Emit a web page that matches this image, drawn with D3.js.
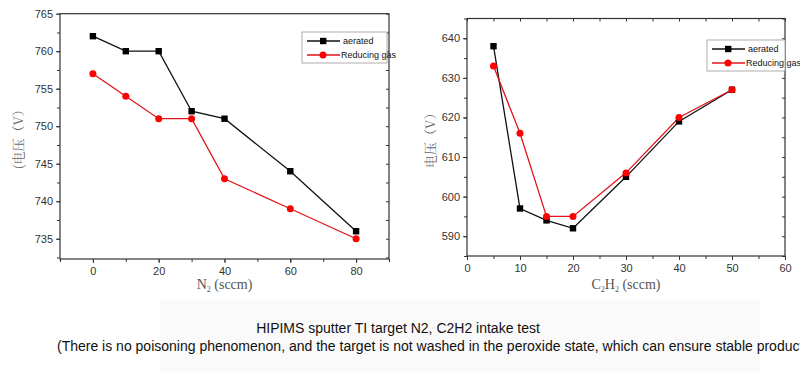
<!DOCTYPE html>
<html>
<head>
<meta charset="utf-8">
<script src="https://cdn.jsdelivr.net/npm/d3@7"></script>
<style>
body { margin: 0; background: #fff; }
svg { display: block; }
.tick text { font-family: Arial, "Liberation Sans", sans-serif; font-size: 11px; fill: #333; }
.axis-title { font-family: "Liberation Serif", "Noto Serif CJK SC", "Noto Sans CJK SC", serif; font-size: 14px; fill: #555; }
.y-title { font-family: "Noto Serif CJK SC", "Noto Sans CJK SC", serif; font-size: 13px; fill: #666; }
.legend-text { font-family: Arial, "Liberation Sans", sans-serif; font-size: 9px; fill: #111; }
.caption { font-family: Arial, "Liberation Sans", sans-serif; font-size: 14px; fill: #111; }
</style>
</head>
<body>
<script>
// left chart: N2 intake
var n2Flow = [0, 10, 20, 30, 40, 60, 80];
var n2Aerated = [762, 760, 760, 752, 751, 744, 736];
var n2Reducing = [757, 754, 751, 751, 743, 739, 735];
var n2XTicks = [0, 20, 40, 60, 80];
var n2YTicks = [735, 740, 745, 750, 755, 760, 765];

// right chart: C2H2 intake
var c2h2Flow = [5, 10, 15, 20, 30, 40, 50];
var c2h2Aerated = [638, 597, 594, 592, 605, 619, 627];
var c2h2Reducing = [633, 616, 595, 595, 606, 620, 627];
var c2h2XTicks = [0, 10, 20, 30, 40, 50, 60];
var c2h2YTicks = [590, 600, 610, 620, 630, 640];

var seriesNames = ["aerated", "Reducing gas"];
var captionLines = [
    "HIPIMS sputter TI target N2, C2H2 intake test",
    "(There is no poisoning phenomenon, and the target is not washed in the peroxide state, which can ensure stable production)"
];

const svg = d3.select("body").append("svg")
    .attr("width", 800)
    .attr("height", 372);

// faint background band behind the caption
svg.append("rect")
    .attr("x", 160).attr("y", 300)
    .attr("width", 600).attr("height", 72)
    .attr("fill", "#fafafa");

function drawChart(opt) {
    const x = d3.scaleLinear().domain(opt.xDomain).range([opt.left, opt.right]);
    const y = d3.scaleLinear().domain(opt.yDomain).range([opt.bottom, opt.top]);
    const g = svg.append("g");

    // frame
    g.append("rect")
        .attr("x", opt.left).attr("y", opt.top)
        .attr("width", opt.right - opt.left).attr("height", opt.bottom - opt.top)
        .attr("fill", "none").attr("stroke", "#333").attr("stroke-width", 1.2);

    // bottom axis with minor ticks
    const xMinor = d3.range(opt.xDomain[0], opt.xDomain[1] + 0.01, opt.xMinorStep);
    g.append("g")
        .attr("transform", "translate(0," + opt.bottom + ")")
        .call(d3.axisBottom(x).tickValues(xMinor).tickSize(3).tickFormat(""))
        .call(a => a.select(".domain").remove())
        .selectAll("line").attr("stroke", "#333");
    g.append("g")
        .attr("transform", "translate(0," + opt.bottom + ")")
        .call(d3.axisBottom(x).tickValues(opt.xTicks).tickSize(4).tickPadding(4))
        .call(a => a.select(".domain").remove())
        .selectAll("line").attr("stroke", "#333");

    // left axis with minor ticks
    const yMinor = d3.range(opt.yTicks[0] - opt.yMinorStep, opt.yDomain[1] + 0.01, opt.yMinorStep)
        .filter(v => v >= opt.yDomain[0]);
    g.append("g")
        .attr("transform", "translate(" + opt.left + ",0)")
        .call(d3.axisLeft(y).tickValues(yMinor).tickSize(3).tickFormat(""))
        .call(a => a.select(".domain").remove())
        .selectAll("line").attr("stroke", "#333");
    g.append("g")
        .attr("transform", "translate(" + opt.left + ",0)")
        .call(d3.axisLeft(y).tickValues(opt.yTicks).tickSize(4).tickPadding(3))
        .call(a => a.select(".domain").remove())
        .selectAll("line").attr("stroke", "#333");

    // right and top frame ticks pointing inward
    g.append("g")
        .attr("transform", "translate(" + opt.right + ",0)")
        .call(d3.axisLeft(y).tickValues(yMinor).tickSize(3).tickFormat(""))
        .call(a => a.select(".domain").remove())
        .selectAll("line").attr("stroke", "#333");
    g.append("g")
        .attr("transform", "translate(0," + opt.top + ")")
        .call(d3.axisBottom(x).tickValues(opt.topTicks ? xMinor : []).tickSize(3).tickFormat(""))
        .call(a => a.select(".domain").remove())
        .selectAll("line").attr("stroke", "#333");

    // axis titles
    const xt = g.append("text")
        .attr("class", "axis-title")
        .attr("x", (opt.left + opt.right) / 2)
        .attr("y", 289)
        .attr("text-anchor", "middle");
    opt.xTitle.forEach(p => {
        const s = xt.append("tspan").text(p.t);
        if (p.sub) s.attr("font-size", "8px").attr("dy", "3");
        else if (p.after) s.attr("dy", "-3");
    });

    g.append("text")
        .attr("class", "y-title")
        .attr("transform", "translate(" + opt.yTitleX + "," + ((opt.top + opt.bottom) / 2) + ") rotate(-90)")
        .attr("text-anchor", "middle")
        .attr("dy", "0.35em")
        .text(opt.yTitle);

    const line = d3.line().x(d => x(d[0])).y(d => y(d[1]));

    const aer = opt.flow.map((f, i) => [f, opt.aerated[i]]);
    const red = opt.flow.map((f, i) => [f, opt.reducing[i]]);

    g.append("path").datum(aer).attr("d", line)
        .attr("fill", "none").attr("stroke", "#111").attr("stroke-width", 1.3);
    g.append("path").datum(red).attr("d", line)
        .attr("fill", "none").attr("stroke", "#e0141a").attr("stroke-width", 1.3);

    g.selectAll(".sq").data(aer).enter().append("rect")
        .attr("x", d => x(d[0]) - 3.2).attr("y", d => y(d[1]) - 3.2)
        .attr("width", 6.4).attr("height", 6.4).attr("fill", "#000");
    g.selectAll(".ci").data(red).enter().append("circle")
        .attr("cx", d => x(d[0])).attr("cy", d => y(d[1]))
        .attr("r", 3.5).attr("fill", "#f00");

    // legend
    const lg = g.append("g").attr("transform", "translate(" + opt.legend[0] + "," + opt.legend[1] + ")");
    lg.append("rect")
        .attr("width", opt.legend[2]).attr("height", 31)
        .attr("fill", "#fff").attr("stroke", "#999").attr("stroke-width", 0.8);
    seriesNames.forEach((name, i) => {
        const yy = 9 + i * 14;
        lg.append("line").attr("x1", 5).attr("x2", 38).attr("y1", yy).attr("y2", yy)
            .attr("stroke", i === 0 ? "#111" : "#e0141a").attr("stroke-width", 1.3);
        if (i === 0) {
            lg.append("rect").attr("x", 18).attr("y", yy - 3.2).attr("width", 6.4).attr("height", 6.4).attr("fill", "#000");
        } else {
            lg.append("circle").attr("cx", 21).attr("cy", yy).attr("r", 3.5).attr("fill", "#f00");
        }
        lg.append("text").attr("class", "legend-text")
            .attr("x", i === 0 ? 41 : 39).attr("y", yy).attr("dy", "0.35em")
            .text(name);
    });
}

drawChart({
    left: 60, right: 389, top: 13.7, bottom: 259,
    xDomain: [-10, 90], yDomain: [732.3, 765],
    xTicks: n2XTicks, xMinorStep: 10, yTicks: n2YTicks, yMinorStep: 2.5,
    flow: n2Flow, aerated: n2Aerated, reducing: n2Reducing,
    xTitle: [{ t: "N" }, { t: "2", sub: true }, { t: " (sccm)", after: true }],
    yTitle: "(电压（V）", yTitleX: 18,
    legend: [302, 32, 85], topTicks: false
});

drawChart({
    left: 467, right: 785, top: 18.5, bottom: 256,
    xDomain: [0, 60], yDomain: [585, 645],
    xTicks: c2h2XTicks, xMinorStep: 5, yTicks: c2h2YTicks, yMinorStep: 5,
    flow: c2h2Flow, aerated: c2h2Aerated, reducing: c2h2Reducing,
    xTitle: [{ t: "C" }, { t: "2", sub: true }, { t: "H", after: true }, { t: "2", sub: true }, { t: "  (sccm)", after: true }],
    yTitle: "电压（V）", yTitleX: 430,
    legend: [707, 40, 78], topTicks: true
});

// caption
svg.append("text").attr("class", "caption")
    .attr("x", 398).attr("y", 333).attr("text-anchor", "middle")
    .text(captionLines[0]);
svg.append("text").attr("class", "caption")
    .attr("x", 57).attr("y", 351)
    .text(captionLines[1]);
</script>
</body>
</html>
